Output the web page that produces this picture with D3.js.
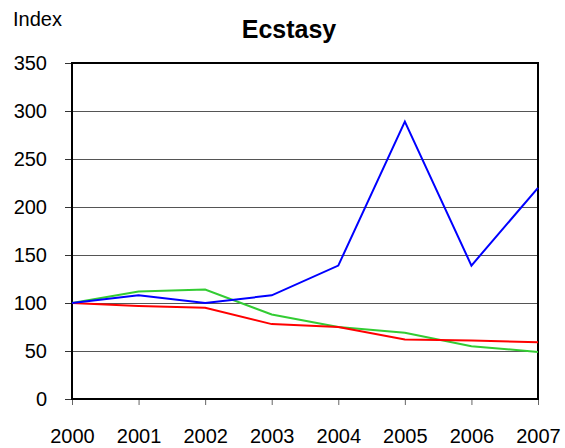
<!DOCTYPE html>
<html>
<head>
<meta charset="utf-8">
<script src="https://cdn.jsdelivr.net/npm/d3@7"></script>
<style>
  body { margin: 0; background: #fff; }
  text { font-family: "Liberation Sans", Arial, sans-serif; }
</style>
</head>
<body>
<div id="chart"></div>
<script>
// data
var years = [2000, 2001, 2002, 2003, 2004, 2005, 2006, 2007];
var blueSeries = [100, 108, 100, 108, 139, 289, 139, 220];
var greenSeries = [100, 112, 114, 88, 75, 69, 55, 49];
var redSeries = [100, 97, 95, 78, 75, 62, 61, 59];
var yTicks = [0, 50, 100, 150, 200, 250, 300, 350];

var series = [
  {values: greenSeries, color: "#33cc33"},
  {values: redSeries, color: "#ff0000"},
  {values: blueSeries, color: "#0000ff"}
];

// set the dimensions and margins of the graph
var margin = {top: 63, right: 27, bottom: 49, left: 72},
    width = 565 - margin.left - margin.right,
    height = 448 - margin.top - margin.bottom;

var svg = d3.select("#chart")
  .append("svg")
    .attr("width", 565)
    .attr("height", 448);

var g = svg.append("g")
    .attr("transform", "translate(" + margin.left + "," + margin.top + ")");

// scales
var x = d3.scaleLinear()
  .domain([2000, 2007])
  .range([0, width]);

var y = d3.scaleLinear()
  .domain([0, 350])
  .range([height, 0]);

// gridlines
g.append("g")
  .selectAll("line")
  .data(yTicks)
  .enter()
  .append("line")
    .attr("x1", 0)
    .attr("x2", width)
    .attr("y1", function(d) { return Math.round(y(d)) + 0.5; })
    .attr("y2", function(d) { return Math.round(y(d)) + 0.5; })
    .style("stroke", "#555")
    .style("stroke-width", 1);

// Y axis
var yAxis = g.append("g")
  .call(d3.axisLeft(y).tickValues(yTicks).tickSize(7).tickPadding(18));
yAxis.select(".domain").remove();
yAxis.selectAll("line").style("stroke", "#333");
yAxis.selectAll("text")
  .style("font-size", "20px")
  .style("fill", "#000");

// X axis
var xAxis = g.append("g")
  .attr("transform", "translate(0," + height + ")")
  .call(d3.axisBottom(x).tickValues(years).tickFormat(d3.format("d")).tickSize(6).tickPadding(24));
xAxis.select(".domain").remove();
xAxis.selectAll("line").style("stroke", "#666");
xAxis.selectAll("text")
  .style("font-size", "20px")
  .style("fill", "#000");

// plot frame
g.append("rect")
  .attr("x", 0)
  .attr("y", 0)
  .attr("width", width)
  .attr("height", height)
  .style("fill", "none")
  .style("stroke", "#000")
  .style("stroke-width", 2);

// lines
var line = d3.line()
  .x(function(d, i) { return x(years[i]); })
  .y(function(d) { return y(d); });

g.selectAll(".series")
  .data(series)
  .enter()
  .append("path")
    .attr("class", "series")
    .attr("d", function(d) { return line(d.values); })
    .style("fill", "none")
    .style("stroke", function(d) { return d.color; })
    .style("stroke-width", 2);

// title and axis label
svg.append("text")
  .attr("x", 289)
  .attr("y", 38)
  .attr("text-anchor", "middle")
  .style("font-size", "25px")
  .style("font-weight", "bold")
  .text("Ecstasy");

svg.append("text")
  .attr("x", 13)
  .attr("y", 26)
  .style("font-size", "20px")
  .text("Index");
</script>
</body>
</html>
